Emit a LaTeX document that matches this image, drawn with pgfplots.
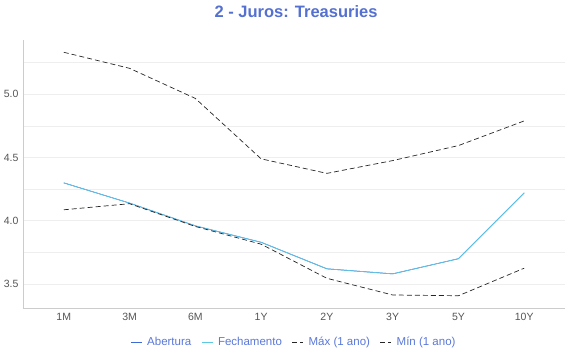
\documentclass[border=0pt]{standalone}
\usepackage{pgfplots}
\pgfplotsset{compat=1.18}
\usepackage{fontspec}
\setmainfont{Liberation Sans}
\definecolor{ttl}{HTML}{5470D0}
\definecolor{lgt}{HTML}{5A78D8}
\definecolor{abe}{HTML}{3D6AD6}
\definecolor{fec}{HTML}{5CC8E2}
\definecolor{axc}{HTML}{CCCCCC}
\definecolor{grd}{HTML}{EEEEEE}
\definecolor{tck}{HTML}{555555}
\begin{document}
\begin{tikzpicture}[x=1pt,y=1pt]
\path (0,0) rectangle (570,360);
\node[font=\fontsize{16.5}{18}\selectfont\bfseries, text=ttl] at (296,348) {2 - Juros: Treasuries};
\begin{axis}[
  at={(23pt,52pt)}, anchor=south west,
  scale only axis, width=542pt, height=268pt,
  xmin=-0.62, xmax=7.62, ymin=3.31, ymax=5.43,
  xtick={0,...,7},
  xticklabels={1M,3M,6M,1Y,2Y,3Y,5Y,10Y},
  ytick={3.5,4.0,4.5,5.0},
  minor ytick={3.25,3.75,4.25,4.75,5.25},
  /pgf/number format/assume math mode=true,
  /pgf/number format/fixed,
  /pgf/number format/fixed zerofill,
  /pgf/number format/precision=1,
  ymajorgrids, yminorgrids,
  major grid style={grd, line width=0.8pt},
  minor grid style={grd, line width=0.6pt},
  axis x line*=bottom, axis y line*=left,
  axis line style={axc, line width=0.8pt},
  major tick length=0pt, minor tick length=0pt,
  tick style={draw=none},
  ticklabel style={font=\fontsize{10.5}{12}\selectfont, text=tck},
  xticklabel style={yshift=-2pt},
  yticklabel style={xshift=-1pt},
  legend columns=4,
  legend style={at={(0.5,-0.128)}, anchor=center, draw=none, fill=none,
    font=\fontsize{11.5}{13}\selectfont, text=lgt,
    /tikz/every odd column/.append style={column sep=3pt},
    /tikz/every even column/.append style={column sep=8pt}},
  legend image code/.code={\draw[#1] (0pt,0pt) -- (11pt,0pt);},
  clip=false,
]
\addplot[abe, line width=0.7pt] coordinates {(0,4.30) (1,4.14) (2,3.96) (3,3.83) (4,3.62) (5,3.58) (6,3.70) (7,4.22)};
\addlegendentry{Abertura}
\addplot[fec, line width=0.7pt] coordinates {(0,4.30) (1,4.14) (2,3.96) (3,3.83) (4,3.62) (5,3.58) (6,3.70) (7,4.22)};
\addlegendentry{Fechamento}
\addplot[black!85, line width=0.7pt, dash pattern=on 5pt off 3pt] coordinates {(0,5.333) (1,5.206) (2,4.968) (3,4.49) (4,4.375) (5,4.476) (6,4.595) (7,4.79)};
\addlegendentry{Máx (1 ano)}
\addplot[black!85, line width=0.7pt, dash pattern=on 5pt off 3pt] coordinates {(0,4.087) (1,4.135) (2,3.955) (3,3.815) (4,3.545) (5,3.413) (6,3.407) (7,3.625)};
\addlegendentry{Mín (1 ano)}
\end{axis}
\end{tikzpicture}
\end{document}
